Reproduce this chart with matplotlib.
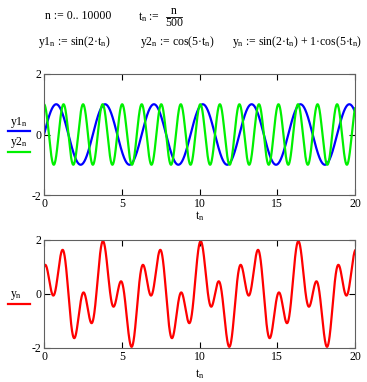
import numpy as np
import matplotlib
matplotlib.use("Agg")
import matplotlib.pyplot as plt

plt.rcParams['font.family'] = ['Liberation Serif', 'DejaVu Serif']
plt.rcParams['mathtext.fontset'] = 'custom'
plt.rcParams['mathtext.rm'] = 'Liberation Serif'
plt.rcParams['mathtext.it'] = 'Liberation Serif'
plt.rcParams['axes.unicode_minus'] = False

# range and constants as defined on the worksheet
n = np.arange(0, 10001)
t_div = 500
w1 = 2
w2 = 5
amp2 = 1
xticks = [0, 5, 10, 15, 20]
yticks = [-2, 0, 2]

t = n / t_div
y1 = np.sin(w1 * t)
y2 = np.cos(w2 * t)
y = np.sin(w1 * t) + amp2 * np.cos(w2 * t)

W, H = 367, 382
fig = plt.figure(figsize=(W / 100, H / 100), dpi=100)


def px(x, y_, w=0, h=0):
    return [x / W, 1 - (y_ + h) / H, w / W, h / H]


def style(ax):
    ax.set_xlim(0, 20)
    ax.set_ylim(-2, 2)
    ax.set_xticks(xticks)
    ax.set_yticks(yticks)
    ax.tick_params(direction='in', top=True, right=True, length=4,
                   width=0.8, labelsize=8.5, pad=2, colors='black')
    for s in ax.spines.values():
        s.set_linewidth(0.8)
        s.set_color('#606060')


ax1 = fig.add_axes(px(44, 74, 311, 121))
ax1.plot(t, y1, color='#0000ff', lw=1.6)
ax1.plot(t, y2, color='#00f000', lw=1.6)
style(ax1)

ax2 = fig.add_axes(px(44, 240, 311, 108))
ax2.plot(t, y, color='#ff0000', lw=1.6)
style(ax2)

sub = r'$_\mathrm{n}$'

# formulas on top
fs = 8.5
fig.text(45 / W, 1 - 16 / H, 'n := 0.. 10000', fontsize=fs, va='center')
fig.text(138 / W, 1 - 17 / H, 't' + sub + ' := ', fontsize=fs, va='center')
fig.text(174 / W, 1 - 11 / H, 'n', fontsize=fs, va='center', ha='center')
fig.text(174 / W, 1 - 23 / H, '500', fontsize=fs, va='center', ha='center')
fig.add_artist(plt.Line2D([166 / W, 182 / W], [1 - 17 / H, 1 - 17 / H], color='black', lw=0.6))
fig.text(38 / W, 1 - 42 / H, 'y1' + sub + ' := sin(2·t' + sub + ')', fontsize=fs, va='center')
fig.text(140 / W, 1 - 42 / H, 'y2' + sub + ' := cos(5·t' + sub + ')', fontsize=fs, va='center')
fig.text(232 / W, 1 - 42 / H,
         'y' + sub + ' := sin(2·t' + sub + ') + 1·cos(5·t' + sub + ')',
         fontsize=fs, va='center')

# legend-like labels on the left
fig.text(10 / W, 1 - 122 / H, 'y1' + sub, fontsize=fs, va='center')
fig.add_artist(plt.Line2D([8 / W, 30 / W], [1 - 131 / H, 1 - 131 / H], color='#0000ff', lw=1.6))
fig.text(10 / W, 1 - 142 / H, 'y2' + sub, fontsize=fs, va='center')
fig.add_artist(plt.Line2D([8 / W, 30 / W], [1 - 152 / H, 1 - 152 / H], color='#00f000', lw=1.6))
fig.text(10 / W, 1 - 296 / H, 'y' + sub, fontsize=fs, va='center')
fig.add_artist(plt.Line2D([8 / W, 30 / W], [1 - 304 / H, 1 - 304 / H], color='#ff0000', lw=1.6))

# x labels
fig.text(200 / W, 1 - 216 / H, 't' + sub, fontsize=fs, ha='center', va='center')
fig.text(200 / W, 1 - 374 / H, 't' + sub, fontsize=fs, ha='center', va='center')

fig.savefig('out.png', dpi=100)
